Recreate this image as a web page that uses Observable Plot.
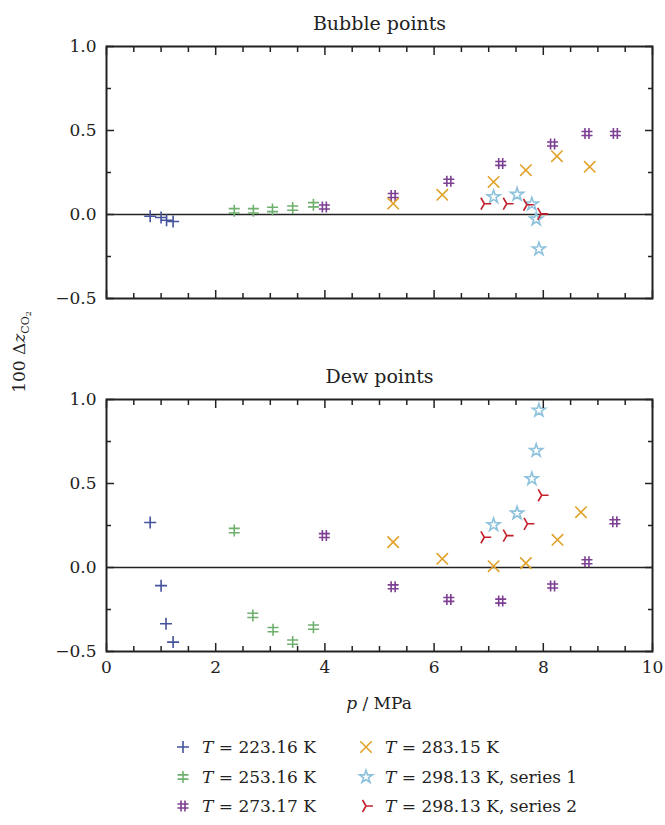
<!DOCTYPE html>
<html><head><meta charset="utf-8">
<script src="https://cdn.jsdelivr.net/npm/d3@7"></script>
<script src="https://cdn.jsdelivr.net/npm/@observablehq/plot@0.6"></script>
<style>
body{margin:0;background:#fff;font-family:"DejaVu Serif",serif;}
#chart{width:665px;}
#legend{position:relative;width:665px;height:105px;font-size:17px;color:#222;}
.item{position:absolute;height:20px;display:flex;align-items:center;white-space:nowrap;}
.item svg{margin-right:10px;flex:none}
</style></head><body><div id="chart"></div><div id="legend"></div>
<script>
// ---- categories / labels ----
const panels = ["Bubble points", "Dew points"];
const tempLabels = ["223.16 K", "253.16 K", "273.17 K", "283.15 K", "298.13 K, series 1", "298.13 K, series 2"];
const seriesColors = ["#45539b", "#6fb06f", "#7d3f92", "#e0a22a", "#8ec2dc", "#c3202b"];
const xMajorTicks = [0, 2, 4, 6, 8, 10];
const xMinorTicks = [0.5, 1, 1.5, 2.5, 3, 3.5, 4.5, 5, 5.5, 6.5, 7, 7.5, 8.5, 9, 9.5];
const yMajorTicks = [-0.5, 0, 0.5, 1.0];
const yMinorTicks = [-0.25, 0.25, 0.75];

// ---- data: T = 223.16 K ----
const t223BubbleP = [0.80, 1.00, 1.10, 1.22];
const t223BubbleD = [-0.010, -0.018, -0.034, -0.042];
const t223DewP = [0.80, 1.00, 1.09, 1.22];
const t223DewD = [0.268, -0.108, -0.335, -0.444];
// T = 253.16 K
const t253BubbleP = [2.34, 2.69, 3.04, 3.41, 3.79];
const t253BubbleD = [0.022, 0.022, 0.030, 0.038, 0.058];
const t253DewP = [2.34, 2.68, 3.05, 3.41, 3.79];
const t253DewD = [0.220, -0.285, -0.370, -0.444, -0.355];
// T = 273.17 K
const t273BubbleP = [3.99, 5.25, 6.27, 7.22, 8.17, 8.80, 9.32];
const t273BubbleD = [0.045, 0.113, 0.198, 0.304, 0.420, 0.482, 0.482];
const t273DewP = [3.99, 5.25, 6.27, 7.22, 8.17, 8.80, 9.31];
const t273DewD = [0.190, -0.115, -0.190, -0.200, -0.110, 0.034, 0.272];
// T = 283.15 K
const t283BubbleP = [5.25, 6.15, 7.09, 7.68, 8.25, 8.85];
const t283BubbleD = [0.065, 0.117, 0.194, 0.264, 0.347, 0.284];
const t283DewP = [5.25, 6.15, 7.09, 7.68, 8.26, 8.69];
const t283DewD = [0.151, 0.052, 0.008, 0.026, 0.165, 0.329];
// T = 298.13 K, series 1
const t298aBubbleP = [7.09, 7.52, 7.79, 7.87, 7.92];
const t298aBubbleD = [0.105, 0.119, 0.062, -0.028, -0.206];
const t298aDewP = [7.09, 7.52, 7.79, 7.87, 7.92];
const t298aDewD = [0.254, 0.323, 0.528, 0.696, 0.935];
// T = 298.13 K, series 2
const t298bBubbleP = [6.92, 7.33, 7.70, 7.96];
const t298bBubbleD = [0.064, 0.064, 0.058, 0.004];
const t298bDewP = [6.92, 7.33, 7.71, 7.97];
const t298bDewD = [0.180, 0.190, 0.260, 0.430];

// ---- marker shapes ----
const rad = s => Math.sqrt(s / Math.PI);
const symPlus = {draw(c, s) { const r = rad(s); c.moveTo(-r, 0); c.lineTo(r, 0); c.moveTo(0, -r); c.lineTo(0, r); }};
const symDagger = {draw(c, s) { const r = rad(s), h = r * 0.92, o = r * 0.36;
  c.moveTo(0, -r); c.lineTo(0, r); c.moveTo(-h, -o); c.lineTo(h, -o); c.moveTo(-h, o); c.lineTo(h, o); }};
const symHash = {draw(c, s) { const r = rad(s) * 0.92, o = r * 0.36;
  c.moveTo(-o, -r); c.lineTo(-o, r); c.moveTo(o, -r); c.lineTo(o, r);
  c.moveTo(-r, -o); c.lineTo(r, -o); c.moveTo(-r, o); c.lineTo(r, o); }};
const symTimes = {draw(c, s) { const r = rad(s) * 0.95; c.moveTo(-r, -r); c.lineTo(r, r); c.moveTo(-r, r); c.lineTo(r, -r); }};
const symStar = {draw(c, s) { d3.symbolStar.draw(c, s * 0.46); }};
const symTri = {draw(c, s) { const r = rad(s) * 1.15;
  for (const a of [0, 120, 240]) { const t = a * Math.PI / 180; c.moveTo(0, 0); c.lineTo(r * Math.cos(t), r * Math.sin(t)); } }};
const seriesSymbols = [symPlus, symDagger, symHash, symTimes, symStar, symTri];

const rows = (ps, ds, panel) => ps.map((p, i) => ({panel, p, d: ds[i]}));
const seriesData = [
  [t223BubbleP, t223BubbleD, t223DewP, t223DewD],
  [t253BubbleP, t253BubbleD, t253DewP, t253DewD],
  [t273BubbleP, t273BubbleD, t273DewP, t273DewD],
  [t283BubbleP, t283BubbleD, t283DewP, t283DewD],
  [t298aBubbleP, t298aBubbleD, t298aDewP, t298aDewD],
  [t298bBubbleP, t298bBubbleD, t298bDewP, t298bDewD]
].map(([bp, bd, dp, dd]) => [...rows(bp, bd, panels[0]), ...rows(dp, dd, panels[1])]);

const ink = "#222";
const tickAxes = [];
for (const anchor of ["top", "bottom"]) {
  tickAxes.push(Plot.axisX(xMajorTicks, {anchor, tickSize: -8, tickFormat: () => "", facetAnchor: null, label: null, stroke: ink, strokeWidth: 1.5}));
  tickAxes.push(Plot.axisX(xMinorTicks, {anchor, tickSize: -5, tickFormat: () => "", facetAnchor: null, label: null, stroke: ink, strokeWidth: 1.5}));
}
for (const anchor of ["left", "right"]) {
  tickAxes.push(Plot.axisY(yMajorTicks, {anchor, tickSize: -8, tickFormat: () => "", facetAnchor: null, label: null, stroke: ink, strokeWidth: 1.5}));
  tickAxes.push(Plot.axisY(yMinorTicks, {anchor, tickSize: -5, tickFormat: () => "", facetAnchor: null, label: null, stroke: ink, strokeWidth: 1.5}));
}

const chart = Plot.plot({
  width: 665, height: 720,
  marginLeft: 106, marginRight: 13, marginTop: 46, marginBottom: 69,
  style: {fontFamily: "DejaVu Serif", fontSize: "17px", color: ink, background: "white", overflow: "visible"},
  x: {domain: [0, 10]},
  y: {domain: [-0.5, 1.0]},
  fy: {domain: panels, paddingInner: 101 / 353, paddingOuter: 0, axis: null},
  marks: [
    Plot.ruleY([0], {stroke: ink, strokeWidth: 1.5}),
    ...seriesData.map((data, i) => Plot.dot(data, {
      x: "p", y: "d", fy: "panel", r: 6, symbol: seriesSymbols[i],
      stroke: seriesColors[i], fill: "none", strokeWidth: 1.6
    })),
    ...tickAxes,
    Plot.axisX(xMajorTicks, {anchor: "bottom", tickSize: 0, tickPadding: 9, label: null, fill: ink, fontSize: 17}),
    Plot.axisY(yMajorTicks, {anchor: "left", tickSize: 0, tickPadding: 10, tickFormat: d3.format(".1f"), label: null, fill: ink, fontSize: 17}),
    Plot.text(panels, {fy: d => d, text: d => d, frameAnchor: "top", dy: -30, fontSize: 19, fill: ink}),
    Plot.frame({stroke: ink, strokeWidth: 2})
  ]
});
document.getElementById("chart").appendChild(chart);

// axis titles with italics / subscripts
const svg = d3.select(chart);
const yl = svg.append("text").attr("transform", "translate(19,352) rotate(-90)")
  .attr("text-anchor", "middle").attr("dy", "0.35em").attr("font-size", 17).attr("fill", ink);
yl.append("tspan").text("100 Δ");
yl.append("tspan").attr("font-style", "italic").text("z");
yl.append("tspan").attr("font-size", 11).attr("dy", 4).text("CO");
yl.append("tspan").attr("font-size", 8).attr("dy", 2).text("2");
const xl = svg.append("text").attr("x", 379).attr("y", 709).attr("text-anchor", "middle")
  .attr("font-size", 17).attr("fill", ink);
xl.append("tspan").attr("font-style", "italic").text("p");
xl.append("tspan").text(" / MPa");

// legend
const legend = d3.select("#legend");
const colX = [174, 357], rowY = [17, 47, 76];
tempLabels.forEach((lab, i) => {
  const col = Math.floor(i / 3), row = i % 3;
  const item = legend.append("div").attr("class", "item")
    .style("left", colX[col] + "px").style("top", rowY[row] + "px");
  const path = d3.path();
  seriesSymbols[i].draw(path, Math.PI * 36);
  const s = item.append("svg").attr("width", 18).attr("height", 18).attr("viewBox", "-9 -9 18 18");
  s.append("path").attr("d", path.toString()).attr("fill", "none").attr("stroke", seriesColors[i]).attr("stroke-width", 1.6);
  const t = item.append("span");
  t.append("i").text("T");
  t.append("span").text(" = " + lab);
});
</script>
</body></html>
